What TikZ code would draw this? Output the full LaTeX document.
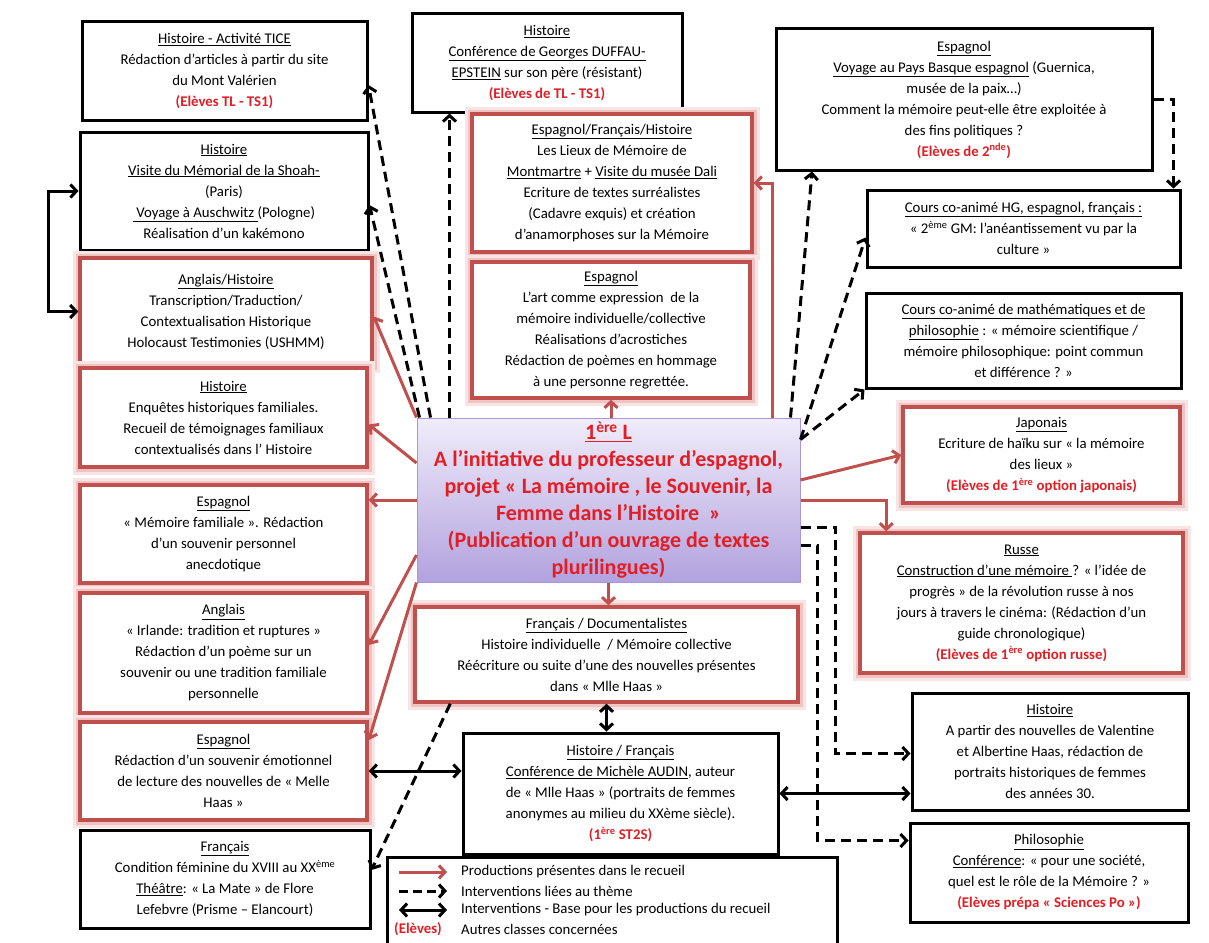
\documentclass[tikz,border=0pt]{standalone}
\usepackage{fontspec}
\setmainfont{Carlito}
\usetikzlibrary{arrows.meta}
\definecolor{boxred}{RGB}{192,80,77}
\definecolor{glowred}{RGB}{240,196,194}
\definecolor{txtred}{RGB}{226,30,36}
\definecolor{ctrtop}{RGB}{240,236,250}
\definecolor{ctrbot}{RGB}{178,162,222}
\definecolor{ctredge}{RGB}{170,150,215}
\newcommand{\uln}[1]{\underline{#1}}
\newcommand{\who}[1]{{\color{txtred}\bfseries #1}}

\begin{document}
\begin{tikzpicture}[x=1pt, y=-1pt,
  every node/.append style={font=\fontsize{14.8}{21}\selectfont, align=center, inner sep=0pt},
  sz/.style 2 args={minimum width=#1pt, minimum height=#2pt},
  blackbox/.style={draw=black, line width=3pt, fill=white},
  redbox/.style={draw=boxred, line width=3.5pt, fill=white,
    preaction={draw=glowred!45!white, line width=15pt},
    preaction={draw=glowred, line width=9pt}},
  centerbox/.style={draw=ctredge, line width=1pt, top color=ctrtop, bottom color=ctrbot,
    text=txtred, font=\fontsize{22}{27}\selectfont\bfseries},
  prodarrow/.style={draw=boxred, line width=3pt, -{Straight Barb[length=6pt,width=13pt]}},
  themearrow/.style={draw=black, line width=3pt, dash pattern=on 10pt off 6pt, -{Straight Barb[length=6pt,width=13pt]}},
  basearrow/.style={draw=black, line width=3pt, {Straight Barb[length=6pt,width=13pt]}-{Straight Barb[length=6pt,width=13pt]}}]
\useasboundingbox (0,0) rectangle (1209,942);

% left column
\node[blackbox, sz={285}{98}] (tice) at (224.5,71) {\uln{Histoire  - Activité TICE}\\Rédaction d’articles à partir du site\\du Mont Valérien\\\who{(Elèves TL  - TS1)}};
\node[blackbox, sz={288}{118}] (visite) at (224,191) {\uln{Histoire}\\\uln{Visite du Mémorial de la Shoah-}\\(Paris)\\\uln{ Voyage à Auschwitz }(Pologne)\\Réalisation d’un kakémono};
\node[redbox, sz={292}{107}] (anghist) at (226,311.5) {\uln{Anglais/Histoire}\\Transcription/Traduction/\\Contextualisation Historique\\Holocaust Testimonies (USHMM)};
\node[redbox, sz={287}{99}] (enq) at (223.5,417.5) {\uln{Histoire}\\Enquêtes historiques familiales.\\Recueil de témoignages familiaux\\contextualisés dans l’ Histoire};
\node[redbox, sz={287}{98}] (memfam) at (223.5,534) {\uln{Espagnol}\\« Mémoire familiale ». Rédaction\\d’un souvenir personnel\\anecdotique};
\node[redbox, sz={287}{120}] (irl) at (223.5,653) {\uln{Anglais}\\« Irlande: tradition et ruptures »\\Rédaction d’un poème sur un\\souvenir ou une tradition familiale\\personnelle};
\node[redbox, sz={287}{98}] (emo) at (223.5,771) {\uln{Espagnol}\\Rédaction d’un souvenir émotionnel\\de lecture des nouvelles de « Melle\\Haas »};
\node[blackbox, sz={290}{98}] (cond) at (225,879) {\uln{Français}\\Condition féminine du XVIII au XX\textsuperscript{ème}\\\uln{Théâtre}: « La Mate » de Flore\\Lefebvre (Prisme – Elancourt)};

% middle column
\node[blackbox, sz={270}{98}] (duffau) at (547,63) {\uln{Histoire}\\\uln{Conférence de Georges DUFFAU-}\\\uln{EPSTEIN} sur son père (résistant)\\\who{(Elèves de TL - TS1)}};
\node[redbox, sz={280}{138}] (lieux) at (612,183) {\uln{Espagnol/Français/Histoire}\\Les Lieux de Mémoire de\\\uln{Montmartre} + \uln{Visite du musée Dali}\\Ecriture de textes surréalistes\\(Cadavre exquis) et création\\d’anamorphoses sur la Mémoire};
\node[redbox, sz={278}{136}] (art) at (611,330) {\uln{Espagnol}\\L’art comme expression \ de la\\mémoire individuelle/collective\\Réalisations d’acrostiches\\Rédaction de poèmes en hommage\\à une personne regrettée.};
\node[centerbox, sz={383}{164}] (ctr) at (608.5,500) {\uln{1\textsuperscript{ère} L}\\A l’initiative du professeur d’espagnol,\\projet « La mémoire , le Souvenir, la\\Femme dans l’Histoire \ »\\(Publication d’un ouvrage de textes\\plurilingues)};
\node[redbox, sz={383}{95}] (doc) at (606.5,654.5) {\uln{Français / Documentalistes}\\Histoire individuelle \ / Mémoire collective\\Réécriture ou suite d’une des nouvelles présentes\\dans « Mlle Haas »};
\node[blackbox, sz={315}{121}] (audin) at (620.5,793.5) {\uln{Histoire / Français}\\\uln{Conférence de Michèle AUDIN}, auteur\\de « Mlle Haas » (portraits de femmes\\anonymes au milieu du XXème siècle).\\\who{(1\textsuperscript{ère} ST2S)}};

% right column
\node[blackbox, sz={376}{141}] (basque) at (964,99.5) {\uln{Espagnol}\\\uln{Voyage au Pays Basque espagnol} (Guernica,\\musée de la paix…)\\Comment la mémoire peut-elle être exploitée à\\des fins politiques ?\\\who{(Elèves de 2\textsuperscript{nde})}};
\node[blackbox, sz={313}{77}] (hg) at (1023.5,228.5) {\uln{Cours co-animé HG, espagnol, français :}\\« 2\textsuperscript{ème} GM: l’anéantissement vu par la\\culture »};
\node[blackbox, sz={315}{95}] (maths) at (1023.5,340.5) {\uln{Cours co-animé de mathématiques et de}\\\uln{philosophie} : « mémoire scientifique /\\mémoire philosophique: point commun\\et différence ? »};
\node[redbox, sz={277}{96}] (jap) at (1041.5,455) {\uln{Japonais}\\Ecriture de haïku sur « la mémoire\\des lieux »\\\who{(Elèves de 1\textsuperscript{ère} option japonais)}};
\node[redbox, sz={323}{140}] (russe) at (1021.5,603) {\uln{Russe}\\\uln{Construction d’une mémoire }? « l’idée de\\progrès » de la révolution russe à nos\\jours à travers le cinéma: (Rédaction d’un\\guide chronologique)\\\who{(Elèves de 1\textsuperscript{ère} option russe)}};
\node[blackbox, sz={276}{117}] (valent) at (1050,751.5) {\uln{Histoire}\\A partir des nouvelles de Valentine\\et Albertine Haas, rédaction de\\portraits historiques de femmes\\des années 30.};
\node[blackbox, sz={278}{99}] (philo) at (1049,872.5) {\uln{Philosophie}\\\uln{Conférence}: « pour une société,\\quel est le rôle de la Mémoire ? »\\\who{(Elèves prépa « Sciences Po »)}};

% legend
\node[blackbox, sz={450}{100}] (leg) at (612,907) {};
\foreach \y/\t [count=\i] in {872/Productions présentes dans le recueil, 891/Interventions liées au thème, 910/Interventions - Base pour les productions du recueil, 929/Autres classes concernées}
{
	\node[anchor=west] (l\i) at (461,\y) {\t};
}
\node[fill=white, inner sep=1pt] (el) at (418,929) {\who{(Elèves)}};
\draw[prodarrow] ([xshift=-62pt]l1.west) -- ([xshift=-14pt]l1.west);
\draw[themearrow, dash pattern=on 9pt off 5pt] ([xshift=-62pt]l2.west) -- ([xshift=-14pt]l2.west);
\draw[basearrow] ([xshift=-62pt]l3.west) -- ([xshift=-14pt]l3.west);

% productions
\draw[prodarrow] ([xshift=-28pt]ctr.north east) |- (lieux.east);
\draw[prodarrow] (ctr.north -| art.south) -- (art.south);
\draw[prodarrow] (ctr.north west) -- ([yshift=-5pt]anghist.east);
\draw[prodarrow] ([yshift=37pt]ctr.west) -- ([yshift=-7pt]enq.east);
\draw[prodarrow] (ctr.west) -- (ctr.west -| memfam.east);
\draw[prodarrow] ([yshift=-55pt]ctr.west) -- ([yshift=8pt]irl.east);
\draw[prodarrow] (ctr.south west) -- ([yshift=31pt]emo.east);
\draw[prodarrow] (ctr.south) -- (ctr.south |- doc.north);
\draw[prodarrow] ([yshift=20pt]ctr.east) -- (jap.west);
\draw[prodarrow] (ctr.east) -| ([xshift=28pt]russe.north west);

% interventions
\coordinate (d1) at ([xshift=33pt]ctr.north west);
\draw[themearrow] (d1) -- (d1 |- duffau.south);
\draw[themearrow] ([xshift=14pt]ctr.north west) -- ([yshift=-14pt]tice.east);
\draw[themearrow] ([xshift=3pt]ctr.north west) -- ([yshift=-14pt]visite.east);
\draw[themearrow] ([xshift=-10pt]ctr.north east) -- ([xshift=-152pt]basque.south);
\draw[themearrow] ([yshift=-22pt]ctr.north east) -- ([yshift=-9pt]hg.west);
\draw[themearrow] ([yshift=-22pt]ctr.north east) -- (maths.south west);
\draw[themearrow] (basque.east) -| ([xshift=-8pt]hg.north east);
\draw[themearrow] ([yshift=-27pt]ctr.east) -- ++(35,0) |- ([yshift=-2pt]valent.west);
\draw[themearrow] ([yshift=-45pt]ctr.east) -- ++(17,0) |- ([yshift=32pt]philo.west);
\draw[themearrow] ([xshift=37pt]doc.south west) -- ([yshift=9pt]cond.east);

% bases
\draw[basearrow] (visite.west) -- ++(-30,0) |- (anghist.west);
\draw[basearrow] (doc.south) -- (doc.south |- audin.north);
\draw[basearrow] (emo.east) -- (emo.east -| audin.west);
\draw[basearrow] (audin.east) -- (audin.east -| valent.west);

\end{tikzpicture}
\end{document}
